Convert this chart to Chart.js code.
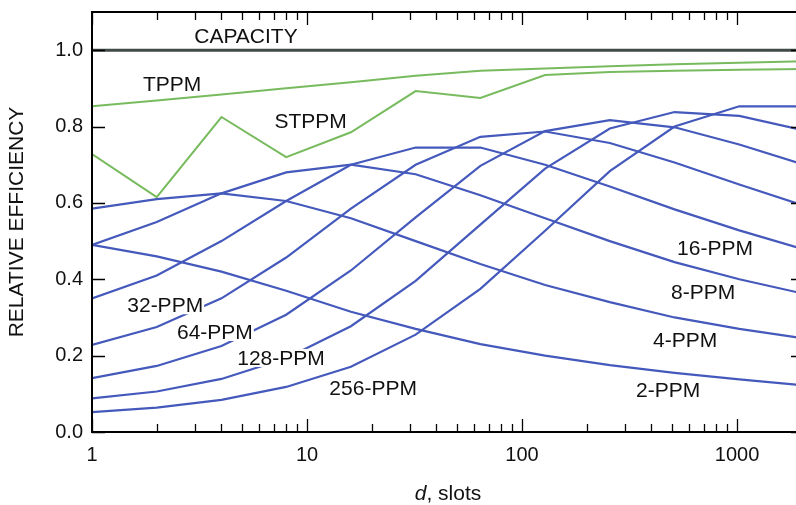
<!DOCTYPE html>
<html>
<head>
<meta charset="utf-8">
<title>Relative efficiency vs dead time</title>
<script src="https://cdn.jsdelivr.net/npm/chart.js@4.4.0/dist/chart.umd.min.js"></script>
<style>
  html, body { margin: 0; padding: 0; background: #fff; }
  #wrap { width: 796px; height: 505px; overflow: hidden; position: relative; }
  #wrap canvas { position: absolute; left: 0; top: 0; }
</style>
</head>
<body>
<div id="wrap"><canvas id="effChart" width="812" height="505"></canvas></div>
<script>
// dead time d (slots) at which the curves were sampled
const dSlots = [1, 2, 4, 8, 16, 32, 64, 128, 256, 512, 1024, 2048];

// relative efficiency
const capacity = [1.0, 1.0, 1.0, 1.0, 1.0, 1.0, 1.0, 1.0, 1.0, 1.0, 1.0, 1.0];
const tppm  = [0.853, 0.868, 0.884, 0.900, 0.916, 0.933, 0.946, 0.952, 0.958, 0.963, 0.967, 0.971];
const stppm = [0.728, 0.615, 0.825, 0.720, 0.785, 0.893, 0.875, 0.935, 0.943, 0.946, 0.949, 0.951];

const ppm2   = [0.490, 0.460, 0.420, 0.370, 0.315, 0.270, 0.230, 0.200, 0.175, 0.155, 0.138, 0.122];
const ppm4   = [0.585, 0.610, 0.625, 0.605, 0.560, 0.500, 0.440, 0.385, 0.340, 0.300, 0.270, 0.245];
const ppm8   = [0.490, 0.550, 0.625, 0.680, 0.700, 0.675, 0.620, 0.560, 0.500, 0.445, 0.400, 0.362];
const ppm16  = [0.350, 0.410, 0.500, 0.605, 0.700, 0.745, 0.745, 0.700, 0.643, 0.583, 0.528, 0.478];
const ppm32  = [0.228, 0.275, 0.350, 0.457, 0.585, 0.700, 0.773, 0.787, 0.757, 0.706, 0.648, 0.593];
const ppm64  = [0.141, 0.173, 0.225, 0.307, 0.423, 0.562, 0.697, 0.788, 0.817, 0.798, 0.753, 0.700];
const ppm128 = [0.088, 0.106, 0.139, 0.193, 0.277, 0.396, 0.543, 0.690, 0.795, 0.838, 0.828, 0.790];
const ppm256 = [0.052, 0.064, 0.084, 0.118, 0.171, 0.255, 0.375, 0.527, 0.683, 0.800, 0.853, 0.853];

// axis ticks
const yTicks = [0.0, 0.2, 0.4, 0.6, 0.8, 1.0];
const xMajor = [1, 10, 100, 1000];

// curve names as printed in the figure, with the (d, efficiency) spot they sit at
const curveLabels = ['CAPACITY', 'TPPM', 'STPPM', '32-PPM', '64-PPM', '128-PPM', '256-PPM', '16-PPM', '8-PPM', '4-PPM', '2-PPM'];
const labelAtD    = [5.2, 2.36, 10.4, 2.19, 3.73, 7.57, 20.3, 790, 695, 573, 478];
const labelAtEff  = [1.037, 0.911, 0.814, 0.332, 0.262, 0.194, 0.115, 0.482, 0.366, 0.241, 0.110];

const FONT = '"Liberation Sans", Arial, Helvetica, sans-serif';
const BLUE = '#4459bb';
const GREEN = '#78bb5e';

function toPoints(values) {
    return dSlots.map((d, i) => ({ x: d, y: values[i] }));
}

function lineSet(label, values, color, width) {
    return {
        label: label,
        data: toPoints(values),
        borderColor: color,
        borderWidth: width,
        pointRadius: 0,
        tension: 0,
        fill: false
    };
}

// frame with inward tick marks, curve names and the x title
const decorations = {
    id: 'decorations',
    afterDatasetsDraw(chart) {
        const { ctx, scales: { x, y } } = chart;
        ctx.save();
        ctx.font = '21px ' + FONT;
        ctx.textAlign = 'center';
        ctx.textBaseline = 'middle';
        curveLabels.forEach((text, i) => {
            const px = x.getPixelForValue(labelAtD[i]);
            const py = y.getPixelForValue(labelAtEff[i]);
            const w = ctx.measureText(text).width;
            ctx.fillStyle = '#fff';
            ctx.fillRect(px - w / 2 - 1, py - 9, w + 2, 18);
            ctx.fillStyle = '#111';
            ctx.fillText(text, px, py + 1);
        });
        ctx.restore();
    },
    afterDraw(chart) {
        const { ctx, chartArea: a, scales: { x, y } } = chart;
        ctx.save();
        ctx.strokeStyle = '#000';
        ctx.lineWidth = 2;
        ctx.strokeRect(a.left, a.top, a.right - a.left, a.bottom - a.top);

        ctx.lineWidth = 1.3;
        ctx.beginPath();
        // x ticks: decades long, 2..9 short, on bottom and top
        for (let dec = 1; dec <= 1000; dec *= 10) {
            for (let m = 1; m <= 9; m++) {
                const v = m * dec;
                if (v > x.max) break;
                const px = Math.round(x.getPixelForValue(v)) + 0.5;
                const len = m === 1 ? 13 : 8;
                ctx.moveTo(px, a.bottom);
                ctx.lineTo(px, a.bottom - len);
                ctx.moveTo(px, a.top);
                ctx.lineTo(px, a.top + len);
            }
        }
        // y ticks on left and right
        yTicks.forEach(v => {
            const py = Math.round(y.getPixelForValue(v)) + 0.5;
            ctx.moveTo(a.left, py);
            ctx.lineTo(a.left + 13, py);
            ctx.moveTo(a.right, py);
            ctx.lineTo(a.right - 13, py);
        });
        ctx.stroke();

        // x axis title with italic d
        const cx = (a.left + a.right) / 2;
        const baseY = 500;
        ctx.fillStyle = '#111';
        ctx.textBaseline = 'alphabetic';
        ctx.textAlign = 'left';
        ctx.font = 'italic 21px ' + FONT;
        const wD = ctx.measureText('d').width;
        ctx.font = '21px ' + FONT;
        const wRest = ctx.measureText(', slots').width;
        const startX = cx - (wD + wRest) / 2;
        ctx.font = 'italic 21px ' + FONT;
        ctx.fillText('d', startX, baseY);
        ctx.font = '21px ' + FONT;
        ctx.fillText(', slots', startX + wD, baseY);
        ctx.restore();
    }
};

function drawChart() {
    const ctx = document.getElementById('effChart').getContext('2d');
    new Chart(ctx, {
        type: 'line',
        data: {
            datasets: [
                lineSet('2-PPM', ppm2, BLUE, 2.2),
                lineSet('4-PPM', ppm4, BLUE, 2.2),
                lineSet('8-PPM', ppm8, BLUE, 2.2),
                lineSet('16-PPM', ppm16, BLUE, 2.2),
                lineSet('32-PPM', ppm32, BLUE, 2.2),
                lineSet('64-PPM', ppm64, BLUE, 2.2),
                lineSet('128-PPM', ppm128, BLUE, 2.2),
                lineSet('256-PPM', ppm256, BLUE, 2.2),
                lineSet('STPPM', stppm, GREEN, 2),
                lineSet('TPPM', tppm, GREEN, 2),
                lineSet('CAPACITY', capacity, '#414b45', 3)
            ]
        },
        options: {
            responsive: false,
            devicePixelRatio: 1,
            animation: false,
            layout: { padding: { top: 12, right: 8, left: 0, bottom: 0 } },
            plugins: {
                legend: { display: false },
                tooltip: { enabled: false }
            },
            scales: {
                x: {
                    type: 'logarithmic',
                    min: 1,
                    max: 2048,
                    grid: { display: false, drawTicks: false },
                    border: { display: false },
                    ticks: {
                        autoSkip: false,
                        maxRotation: 0,
                        padding: 11,
                        color: '#111',
                        font: { family: FONT, size: 20 },
                        callback: value => xMajor.includes(value) ? String(value) : ''
                    },
                    afterFit: scale => {
                        scale.height = 73;
                        scale.paddingLeft = 0;
                        scale.paddingRight = 0;
                    }
                },
                y: {
                    min: 0,
                    max: 1.1,
                    grid: { display: false, drawTicks: false },
                    border: { display: false },
                    ticks: {
                        stepSize: 0.2,
                        includeBounds: false,
                        padding: 9,
                        color: '#111',
                        font: { family: FONT, size: 20 },
                        callback: value => value.toFixed(1)
                    },
                    title: {
                        display: true,
                        text: 'RELATIVE EFFICIENCY',
                        color: '#111',
                        font: { family: FONT, size: 21 },
                        padding: { top: 5, bottom: 0 }
                    },
                    afterFit: scale => {
                        scale.width = 92;
                        scale.paddingTop = 0;
                        scale.paddingBottom = 0;
                    }
                }
            }
        },
        plugins: [decorations]
    });
}

document.addEventListener('DOMContentLoaded', function() {
    drawChart();
});
</script>
</body>
</html>
